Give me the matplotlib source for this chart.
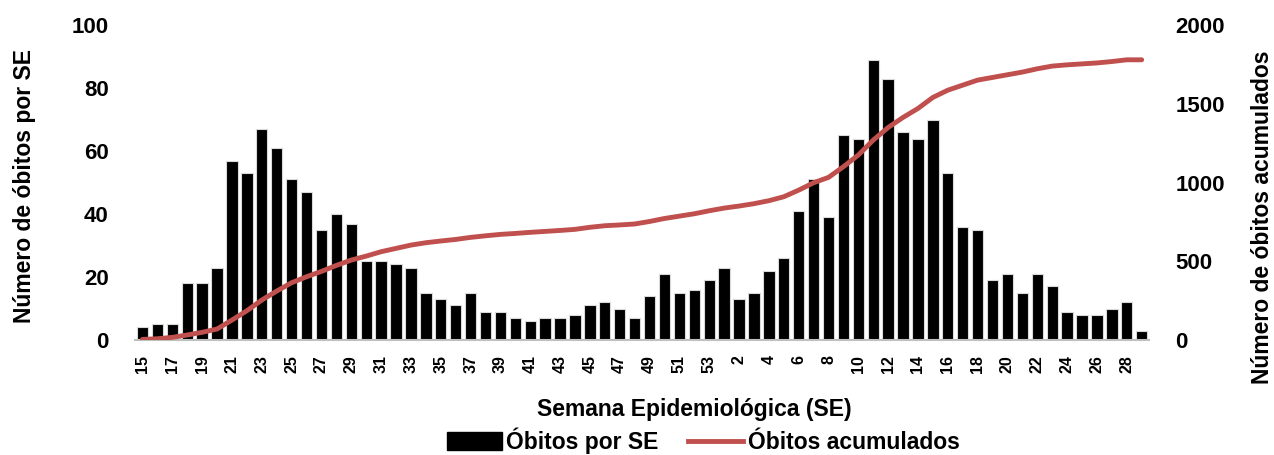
import matplotlib.pyplot as plt
from matplotlib.patches import Patch
from matplotlib.lines import Line2D
import numpy as np

plt.rcParams['font.family'] = ['Liberation Sans', 'DejaVu Sans']
plt.rcParams['font.weight'] = 'bold'

# Semana epidemiologica (2020: 15-53, 2021: 1-29)
semanas = [15, 16, 17, 18, 19, 20, 21, 22, 23, 24, 25, 26, 27, 28, 29, 30, 31, 32, 33, 34,
           35, 36, 37, 38, 39, 40, 41, 42, 43, 44, 45, 46, 47, 48, 49, 50, 51, 52, 53,
           1, 2, 3, 4, 5, 6, 7, 8, 9, 10, 11, 12, 13, 14, 15, 16, 17, 18, 19, 20, 21,
           22, 23, 24, 25, 26, 27, 28, 29]

# Obitos por SE (barras)
obitos = [4, 5, 5, 18, 18, 23, 57, 53, 67, 61, 51, 47, 35, 40, 37, 25, 25, 24, 23, 15,
          13, 11, 15, 9, 9, 7, 6, 7, 7, 8, 11, 12, 10, 7, 14, 21, 15, 16, 19,
          23, 13, 15, 22, 26, 41, 51, 39, 65, 64, 89, 83, 66, 64, 70, 53, 36, 35, 19, 21, 15,
          21, 17, 9, 8, 8, 10, 12, 3]

# Obitos acumulados (linha)
acumulados = [4, 8, 17, 32, 49, 70, 127, 186, 254, 311, 364, 402, 436, 474, 508, 533, 561,
              582, 603, 618, 629, 639, 652, 662, 671, 677, 684, 690, 696, 703, 716, 726, 731,
              737, 753, 772, 787, 802, 821, 838, 851, 866, 885, 910, 952, 999, 1033, 1101,
              1175, 1270, 1350, 1414, 1471, 1541, 1587, 1619, 1651, 1668, 1685, 1702, 1723,
              1740, 1748, 1754, 1760, 1769, 1780, 1780]

vermelho = '#C0504D'
x = np.arange(len(semanas))

fig = plt.figure(figsize=(12.74, 4.55), dpi=100)
ax = fig.add_axes([0.106, 0.2527, 0.796, 0.692])
ax.bar(x, obitos, width=0.76, color='black', edgecolor='#d9d9d9', linewidth=0.8, zorder=2)
ax.set_xlim(-0.5, len(semanas) - 0.5)
ax.set_ylim(0, 100)
ax.set_yticks([0, 20, 40, 60, 80, 100])
ax.set_xticks(x[::2])
ax.set_xticklabels([str(s) for s in semanas[::2]], rotation=90, fontsize=11.5, fontweight='bold')
ax.tick_params(axis='y', length=0, pad=19, labelsize=16)
ax.tick_params(axis='x', length=0, pad=11)
for s in ['top', 'left', 'right']:
    ax.spines[s].set_visible(False)
ax.spines['bottom'].set_color('#bfbfbf')
ax.spines['bottom'].set_linewidth(1.5)
ax.spines['bottom'].set_zorder(5)

ax2 = ax.twinx()
ax2.plot(x, acumulados, color=vermelho, linewidth=3.5, solid_capstyle='round', zorder=3)
ax2.set_ylim(0, 2000)
ax2.set_yticks([0, 500, 1000, 1500, 2000])
ax2.tick_params(axis='y', length=0, pad=19, labelsize=16)
for s in ['top', 'left', 'right', 'bottom']:
    ax2.spines[s].set_visible(False)

fig.text(0.019, 0.591, 'Número de óbitos por SE', rotation=90, ha='center', va='center',
         fontsize=16.5, fontweight='bold')
fig.text(0.991, 0.523, 'Número de óbitos acumulados', rotation=90, ha='center', va='center',
         fontsize=16.5, fontweight='bold')
fig.text(0.545, 0.099, 'Semana Epidemiológica (SE)', ha='center', va='center',
         fontsize=16.5, fontweight='bold')

handles = [Patch(facecolor='black', edgecolor='black'),
           Line2D([0], [0], color=vermelho, linewidth=3.5)]
fig.legend(handles, ['Óbitos por SE', 'Óbitos acumulados'], loc='center',
           bbox_to_anchor=(0.552, 0.031), ncol=2, frameon=False,
           prop={'size': 16.5, 'weight': 'bold'}, handlelength=2.4, handleheight=0.85,
           handletextpad=0.2, columnspacing=1.3, borderaxespad=0, borderpad=0)

fig.savefig('out.png', dpi=100)
